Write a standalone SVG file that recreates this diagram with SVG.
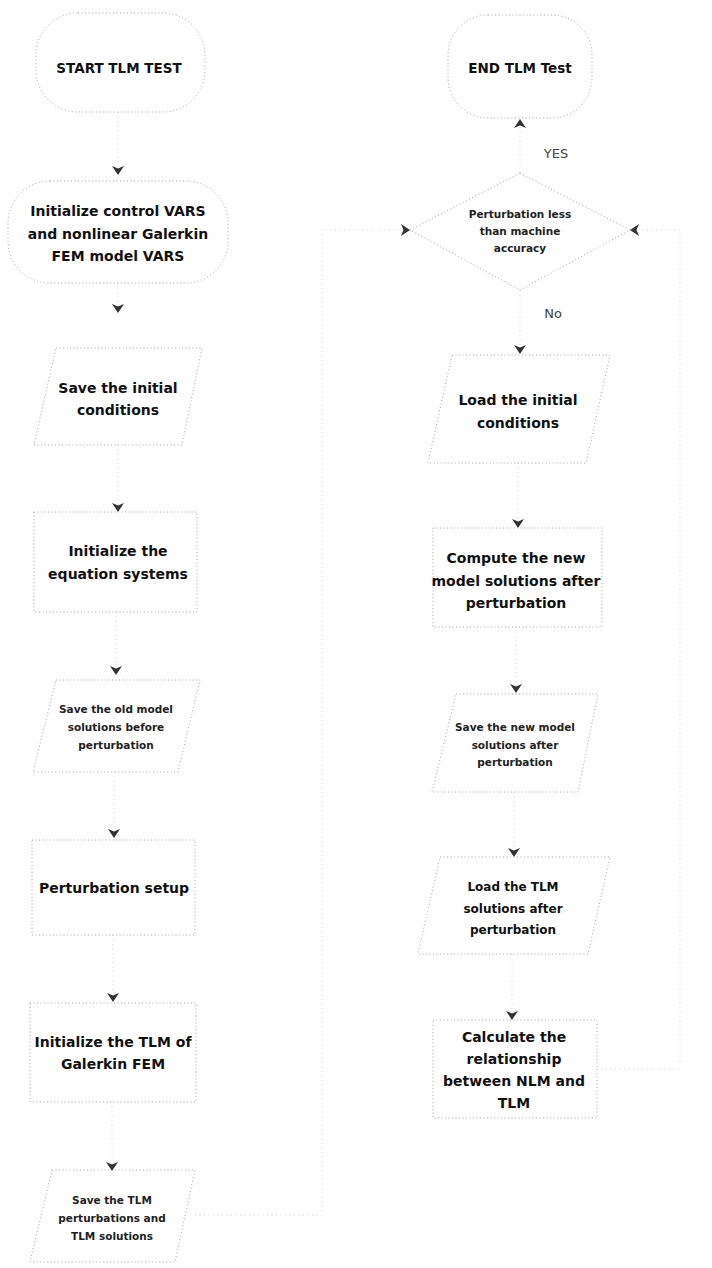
<svg xmlns="http://www.w3.org/2000/svg" width="712" height="1268" viewBox="0 0 712 1268">
<defs>
<marker id="ah" markerWidth="9" markerHeight="12" refX="8" refY="6" orient="auto" markerUnits="userSpaceOnUse">
<path d="M0,0 L9,6 L0,12 L2.5,6 Z" fill="#333"/>
</marker>
<style>
.sh{fill:none;stroke:#9a9a9a;stroke-width:0.9;stroke-dasharray:1 2.5}
.cn{fill:none;stroke:#c4c4c4;stroke-width:0.8;stroke-dasharray:1 3.5}
.t{font-family:"DejaVu Sans",Verdana,sans-serif;fill:#111;text-anchor:middle;font-weight:bold}
.t14{font-size:14px}
.t13{font-size:13.5px}
.t12{font-size:12px}
.t10{font-size:10.5px;fill:#222}
.t9{font-size:10.5px;fill:#222}
.lb{font-family:"DejaVu Sans",Verdana,sans-serif;fill:#444;font-size:13px;text-anchor:middle}
</style>
</defs>
<rect width="712" height="1268" fill="#fff"/>
<g id="connectors">
<path class="cn" d="M118,112 V174" marker-end="url(#ah)"/>
<path class="cn" d="M118,283 V312" marker-end="url(#ah)"/>
<path class="cn" d="M118,445 V511" marker-end="url(#ah)"/>
<path class="cn" d="M116,612 V674" marker-end="url(#ah)"/>
<path class="cn" d="M114,772 V837" marker-end="url(#ah)"/>
<path class="cn" d="M113,935 V1001" marker-end="url(#ah)"/>
<path class="cn" d="M112,1102 V1170" marker-end="url(#ah)"/>
<path class="cn" d="M195,1215 H322 V230 H409" marker-end="url(#ah)"/>
<path class="cn" d="M520,173 V120" marker-end="url(#ah)"/>
<path class="cn" d="M520,290 V353" marker-end="url(#ah)"/>
<path class="cn" d="M518,463 V527" marker-end="url(#ah)"/>
<path class="cn" d="M516,627 V692" marker-end="url(#ah)"/>
<path class="cn" d="M514,792 V856" marker-end="url(#ah)"/>
<path class="cn" d="M512,954 V1019" marker-end="url(#ah)"/>
<path class="cn" d="M597,1069 H680 V230 H631" marker-end="url(#ah)"/>
<text class="lb" x="556" y="158">YES</text>
<text class="lb" x="553" y="318">No</text>
</g>
<g id="start">
<rect class="sh" x="36" y="13" width="169" height="99" rx="42"/>
<text class="t t13" x="119" y="73">START TLM TEST</text>
</g>
<g id="initControl">
<rect class="sh" x="8" y="181" width="220" height="102" rx="42"/>
<text class="t t14" x="118" y="216">Initialize control VARS</text>
<text class="t t14" x="118" y="239">and nonlinear Galerkin</text>
<text class="t t14" x="118" y="261">FEM model VARS</text>
</g>
<g id="saveInitial">
<path class="sh" d="M56,348 H202 L182,445 H34 Z"/>
<text class="t t14" x="118" y="393">Save the initial</text>
<text class="t t14" x="118" y="415">conditions</text>
</g>
<g id="initEq">
<rect class="sh" x="34" y="512" width="163" height="100"/>
<text class="t t14" x="118" y="556">Initialize the</text>
<text class="t t14" x="118" y="579">equation systems</text>
</g>
<g id="saveOld">
<path class="sh" d="M56,680 H200 L178,772 H33 Z"/>
<text class="t t10" x="116" y="713">Save the old model</text>
<text class="t t10" x="116" y="731">solutions before</text>
<text class="t t10" x="116" y="749">perturbation</text>
</g>
<g id="pertSetup">
<rect class="sh" x="32" y="840" width="163" height="95"/>
<text class="t t14" x="114" y="893">Perturbation setup</text>
</g>
<g id="initTLM">
<rect class="sh" x="30" y="1003" width="166" height="99"/>
<text class="t t14" x="113" y="1047">Initialize the TLM of</text>
<text class="t t14" x="113" y="1069">Galerkin FEM</text>
</g>
<g id="saveTLM">
<path class="sh" d="M52,1170 H195 L175,1262 H30 Z"/>
<text class="t t10" x="112" y="1204">Save the TLM</text>
<text class="t t10" x="112" y="1222">perturbations and</text>
<text class="t t10" x="112" y="1240">TLM solutions</text>
</g>
<g id="end">
<rect class="sh" x="448" y="15" width="144" height="103" rx="40"/>
<text class="t t13" x="520" y="73">END TLM Test</text>
</g>
<g id="decision">
<path class="sh" d="M520,173 L630,230 L520,290 L410,230 Z"/>
<text class="t t9" x="520" y="218">Perturbation less</text>
<text class="t t9" x="520" y="235">than machine</text>
<text class="t t9" x="520" y="252">accuracy</text>
</g>
<g id="loadInitial">
<path class="sh" d="M452,355 H610 L586,463 H428 Z"/>
<text class="t t14" x="518" y="405">Load the initial</text>
<text class="t t14" x="518" y="428">conditions</text>
</g>
<g id="computeNew">
<rect class="sh" x="433" y="528" width="169" height="99"/>
<text class="t t14" x="516" y="563">Compute the new</text>
<text class="t t14" x="516" y="586">model solutions after</text>
<text class="t t14" x="516" y="608">perturbation</text>
</g>
<g id="saveNew">
<path class="sh" d="M456,694 H598 L578,792 H432 Z"/>
<text class="t t10" x="515" y="731">Save the new model</text>
<text class="t t10" x="515" y="749">solutions after</text>
<text class="t t10" x="515" y="766">perturbation</text>
</g>
<g id="loadTLM">
<path class="sh" d="M440,857 H610 L588,954 H418 Z"/>
<text class="t t12" x="513" y="891">Load the TLM</text>
<text class="t t12" x="513" y="913">solutions after</text>
<text class="t t12" x="513" y="934">perturbation</text>
</g>
<g id="calc">
<rect class="sh" x="433" y="1020" width="164" height="98"/>
<text class="t t14" x="514" y="1042">Calculate the</text>
<text class="t t14" x="514" y="1064">relationship</text>
<text class="t t14" x="514" y="1086">between NLM and</text>
<text class="t t14" x="514" y="1108">TLM</text>
</g>
</svg>
